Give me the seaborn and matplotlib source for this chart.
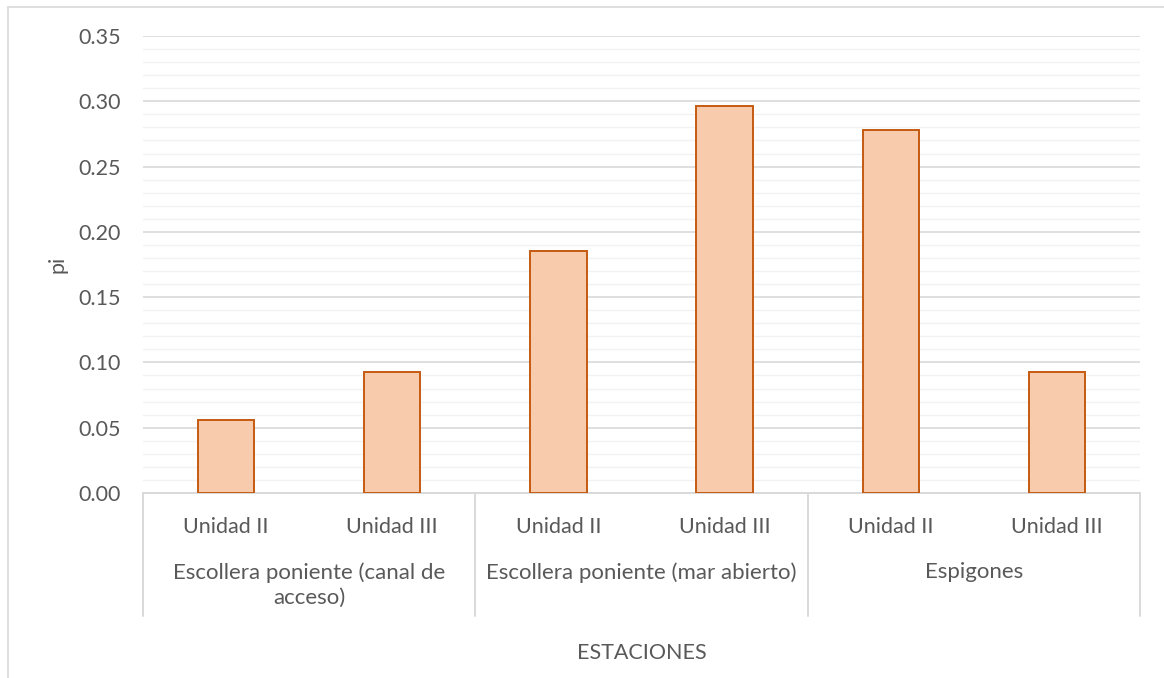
import matplotlib
matplotlib.use("Agg")
import matplotlib.pyplot as plt
import matplotlib.transforms as mtransforms
from matplotlib.lines import Line2D
from matplotlib.ticker import MultipleLocator, FormatStrFormatter
import seaborn as sns
import pandas as pd

# Station groups, units within each group and the pi value of every bar
estaciones = [
    "Escollera poniente (canal de\nacceso)",
    "Escollera poniente (mar abierto)",
    "Espigones",
]
unidades = ["Unidad II", "Unidad III"]
pi_values = [0.0556, 0.0926, 0.1852, 0.2963, 0.2778, 0.0926]

rows = []
k = 0
for est in estaciones:
    for uni in unidades:
        rows.append({"barra": f"{est} | {uni}", "estacion": est,
                     "unidad": uni, "pi": pi_values[k]})
        k += 1
df = pd.DataFrame(rows)

sns.set_theme(style="white")
plt.rcParams["font.family"] = ["Lato", "DejaVu Sans"]

TEXT = "#595959"
MAJOR = "#D9D9D9"
MINOR = "#F2F2F2"
FILL = "#F8CBAD"
EDGE = "#C55A11"
FS = 15.5
FS_GROUP = 16

W, H = 1164, 678
fig = plt.figure(figsize=(W / 100, H / 100), dpi=100)
ax = fig.add_axes([143 / W, 1 - 493 / H, (1140 - 143) / W, (493 - 36) / H])

sns.barplot(data=df, x="barra", y="pi", ax=ax, color=FILL, width=0.34,
            edgecolor=EDGE, linewidth=1.4, saturation=1, errorbar=None)
for p in ax.patches:
    p.set_facecolor(FILL)
    p.set_zorder(3)

ax.set_xlim(-0.5, len(df) - 0.5)
ax.set_ylim(0, 0.35)
ax.yaxis.set_major_locator(MultipleLocator(0.05))
ax.yaxis.set_minor_locator(MultipleLocator(0.01))
ax.yaxis.set_major_formatter(FormatStrFormatter("%.2f"))
ax.grid(which="major", axis="y", color=MAJOR, linewidth=1.2, zorder=1)
ax.grid(which="minor", axis="y", color=MINOR, linewidth=1.0, zorder=0)
ax.set_axisbelow(True)

for side in ["top", "right", "left"]:
    ax.spines[side].set_visible(False)
ax.spines["bottom"].set_color(MAJOR)
ax.spines["bottom"].set_linewidth(1.4)

ax.tick_params(axis="both", which="both", length=0, colors=TEXT, labelsize=FS)
ax.tick_params(axis="y", pad=16)
ax.tick_params(axis="x", pad=17)
ax.set_xticks(range(len(df)))
ax.set_xticklabels(df["unidad"])

ax.set_ylabel("pi", color=TEXT, fontsize=FS, labelpad=8)
ax.set_xlabel("")

# Multi-level category axis: group separators and group names
trans = mtransforms.blended_transform_factory(ax.transData, ax.transAxes)
depth = -(616 - 493) / (493 - 36)
n_u = len(unidades)
for g in range(len(estaciones) + 1):
    xb = g * n_u - 0.5
    ax.add_line(Line2D([xb, xb], [0, depth], transform=trans, color=MAJOR,
                       linewidth=1.4, clip_on=False))
for g, est in enumerate(estaciones):
    xc = g * n_u + (n_u - 1) / 2
    ax.text(xc, -(562 - 493) / (493 - 36), est, transform=trans,
            ha="center", va="top", fontsize=FS_GROUP, color=TEXT,
            linespacing=1.35)

ax.text(0.5, -(653 - 493) / (493 - 36), "ESTACIONES", transform=ax.transAxes,
        ha="center", va="center", fontsize=FS, color=TEXT)

# Chart area border
fig.add_artist(Line2D([8 / W, 1], [1 - 7 / H, 1 - 7 / H], color=MAJOR,
                      linewidth=1.2, transform=fig.transFigure))
fig.add_artist(Line2D([8 / W, 8 / W], [0, 1 - 7 / H], color=MAJOR,
                      linewidth=1.2, transform=fig.transFigure))

fig.savefig("out.png", dpi=100, facecolor="white")
